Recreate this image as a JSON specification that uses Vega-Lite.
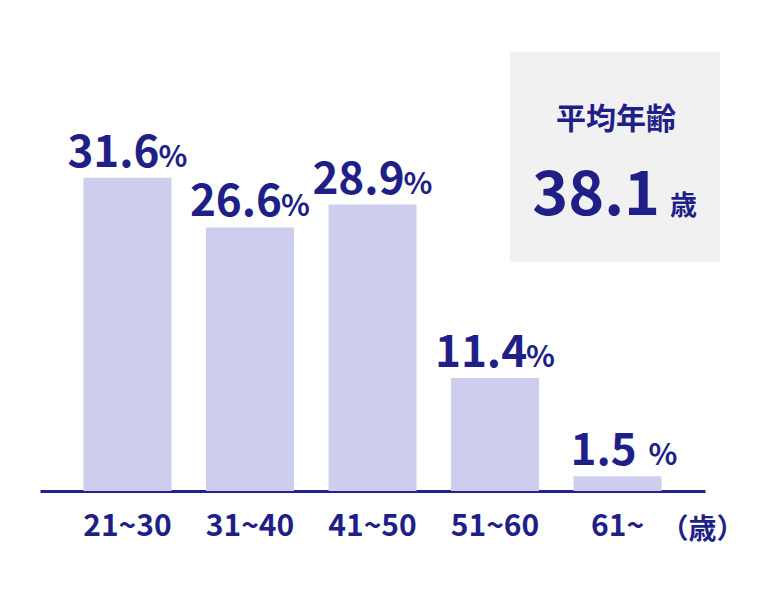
{
  "$schema": "https://vega.github.io/schema/vega-lite/v6.json",
  "width": 665,
  "height": 491,
  "autosize": "none",
  "padding": {"left": 40, "top": 0, "right": 65, "bottom": 104},
  "background": "white",
  "config": {"view": {"stroke": null}, "font": "Noto Sans CJK JP"},
  "datasets": {
    "ages": [
      {"age": "21~30", "pct": 31.6},
      {"age": "31~40", "pct": 26.6},
      {"age": "41~50", "pct": 28.9},
      {"age": "51~60", "pct": 11.4},
      {"age": "61~", "pct": 1.5}
    ],
    "avg": [{"label": "平均年齢", "avg": 38.1, "unit": "歳"}]
  },
  "layer": [
    {
      "data": {"name": "ages"},
      "encoding": {
        "x": {
          "field": "age", "type": "nominal", "sort": null,
          "scale": {"paddingInner": 0.282, "paddingOuter": 0.355},
          "axis": {
            "title": "（歳）",
            "titleFont": "Noto Sans CJK JP", "titleFontWeight": "bold", "titleFontSize": 28, "titleColor": "#1f1f87",
            "titleAnchor": null, "titleAlign": "center", "titleBaseline": "alphabetic", "titleX": 662, "titleY": 47,
            "labelAngle": 0, "labelFont": "Noto Sans CJK JP", "labelFontWeight": "bold", "labelFontSize": 30,
            "labelColor": "#1f1f87", "labelPadding": 20, "ticks": false,
            "domainColor": "#22228a", "domainWidth": 3, "grid": false
          }
        },
        "y": {
          "field": "pct", "type": "quantitative",
          "scale": {"domain": [0, 49.55], "nice": false, "zero": true},
          "axis": null
        }
      },
      "layer": [
        {"mark": {"type": "bar", "color": "#cdcdee"}},
        {
          "mark": {"type": "text", "font": "Noto Sans CJK JP", "fontWeight": "bold", "fontSize": 44, "color": "#1f1f87", "align": "center", "baseline": "alphabetic", "dx": -14, "dy": -11},
          "encoding": {"text": {"field": "pct", "type": "quantitative", "format": ".1f"}}
        },
        {
          "mark": {"type": "text", "font": "Noto Sans CJK JP", "fontWeight": "bold", "fontSize": 30, "color": "#1f1f87", "align": "left", "baseline": "alphabetic", "dx": 31, "dy": -11, "text": "%"}
        }
      ]
    },
    {
      "data": {"name": "avg"},
      "encoding": {},
      "layer": [
        {
          "mark": {"type": "rect", "color": "#f1f1f1"},
          "encoding": {
            "x": {"datum": 4.118, "type": "quantitative", "scale": {"domain": [0.2816, 5.7102], "nice": false, "zero": false}, "axis": null},
            "x2": {"datum": 5.833},
            "y": {"datum": 23.11, "type": "quantitative", "scale": {"domain": [0, 49.55], "nice": false, "zero": true}, "axis": null},
            "y2": {"datum": 44.3}
          }
        },
        {
          "mark": {"type": "text", "font": "Noto Sans CJK JP", "fontWeight": "bold", "fontSize": 30, "color": "#1f1f87", "align": "center", "baseline": "alphabetic"},
          "encoding": {
            "x": {"datum": 4.984, "type": "quantitative"},
            "y": {"datum": 36.53, "type": "quantitative"},
            "text": {"field": "label"}
          }
        },
        {
          "mark": {"type": "text", "font": "Noto Sans CJK JP", "fontWeight": "bold", "fontSize": 61, "color": "#1f1f87", "align": "right", "baseline": "alphabetic"},
          "encoding": {
            "x": {"datum": 5.343, "type": "quantitative"},
            "y": {"datum": 27.85, "type": "quantitative"},
            "text": {"field": "avg", "type": "quantitative", "format": ".1f"}
          }
        },
        {
          "mark": {"type": "text", "font": "Noto Sans CJK JP", "fontWeight": "bold", "fontSize": 27, "color": "#1f1f87", "align": "left", "baseline": "alphabetic"},
          "encoding": {
            "x": {"datum": 5.424, "type": "quantitative"},
            "y": {"datum": 27.85, "type": "quantitative"},
            "text": {"field": "unit"}
          }
        }
      ]
    }
  ],
  "resolve": {"scale": {"x": "independent"}}
}
